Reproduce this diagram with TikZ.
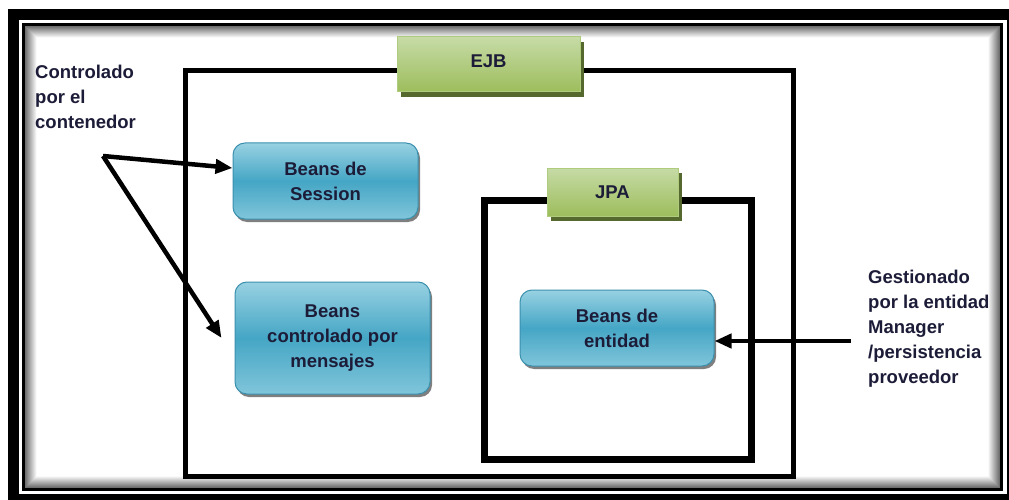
\documentclass[tikz,border=0pt]{standalone}
\usepackage{fontspec}
\setmainfont{Liberation Sans}
\usetikzlibrary{arrows.meta,shadows}

\definecolor{ink}{HTML}{1C1C38}
\definecolor{beantop}{HTML}{98D1E2}
\definecolor{beanmid}{HTML}{45A6C5}
\definecolor{beanbot}{HTML}{80C5DA}
\definecolor{beanedge}{HTML}{3B90AE}
\definecolor{tagtop}{HTML}{C6DBA6}
\definecolor{tagbot}{HTML}{9DBD5C}
\definecolor{tagedge}{HTML}{AFCB7D}
\definecolor{tagshade}{HTML}{55692E}

\tikzset{
  lbl/.style={font=\bfseries\fontsize{18.5}{25}\selectfont, text=ink},
  bean/.style={lbl, align=center, inner sep=0pt,
    draw=beanedge, line width=1pt, rounded corners=12pt,
    top color=beantop, bottom color=beanbot, middle color=beanmid,
    drop shadow={shadow xshift=2pt, shadow yshift=-3pt, fill=black, opacity=0.5}},
  tag/.style={lbl, align=center, inner sep=0pt,
    draw=tagedge, line width=1pt,
    top color=tagtop, bottom color=tagbot,
    drop shadow={shadow xshift=4pt, shadow yshift=-5pt, fill=tagshade, opacity=1}},
  frameline/.style={draw=black, line width=#1},
  pointer/.style={draw=black, line width=4.5pt, -{Triangle[length=17pt,width=14pt]}},
  note/.style={lbl, align=left, anchor=north west, inner sep=0pt}
}

\begin{document}
\begin{tikzpicture}[x=1pt, y=-1pt]
  \useasboundingbox (0,0) rectangle (1009,500);
  \fill[white] (0,0) rectangle (1009,500);

  % page frame: heavy outer band, thin inner rule and soft inner shading
  \draw[frameline=11pt] (13.5,14.5) rectangle (1012,499.5);
  \draw[frameline=3pt] (23.5,24.5) rectangle (1001.5,489.5);
  \foreach \i in {1,...,12}{
    \pgfmathsetmacro{\shade}{62-5*\i}
    \draw[black!\shade, line width=1.1pt]
      (25+\i-0.5,26+\i-0.5) rectangle (1000-\i+0.5,488-\i+0.5);
  }

  % containers
  \draw[frameline=5pt] (185.5,71) rectangle (793,476);
  \draw[frameline=7pt] (484.5,200) rectangle (751,459);

  % container tags
  \node[tag, minimum width=183pt, minimum height=55pt] (ejb) at (488.5,64.5) {\raisebox{7pt}{EJB}};
  \node[tag, minimum width=131pt, minimum height=48pt] (jpa) at (612.5,192) {JPA};

  % beans
  \node[bean, minimum width=185pt, minimum height=76pt] (session) at (325.5,181) {Beans de\\Session};
  \node[bean, minimum width=195pt, minimum height=112pt] (mensajes) at (332.5,338) {Beans\\controlado por\\mensajes};
  \node[bean, minimum width=194pt, minimum height=76pt] (entidad) at (617,328) {Beans de\\entidad};

  % side notes
  \node[note] (cont) at (35,64.5) {Controlado\\por el\\contenedor};
  \node[note] (gest) at (868,269.5) {Gestionado\\por la entidad\\Manager\\/persistencia\\proveedor};

  % pointers
  \coordinate (apex) at (103,156);
  \coordinate (src) at (851,341);
  \draw[pointer] (apex) -- ([yshift=13pt]session.west);
  \draw[pointer] (apex) -- ([xshift=-13pt]mensajes.west);
  \draw[pointer] (src) -- (entidad.east |- src);
\end{tikzpicture}
\end{document}
